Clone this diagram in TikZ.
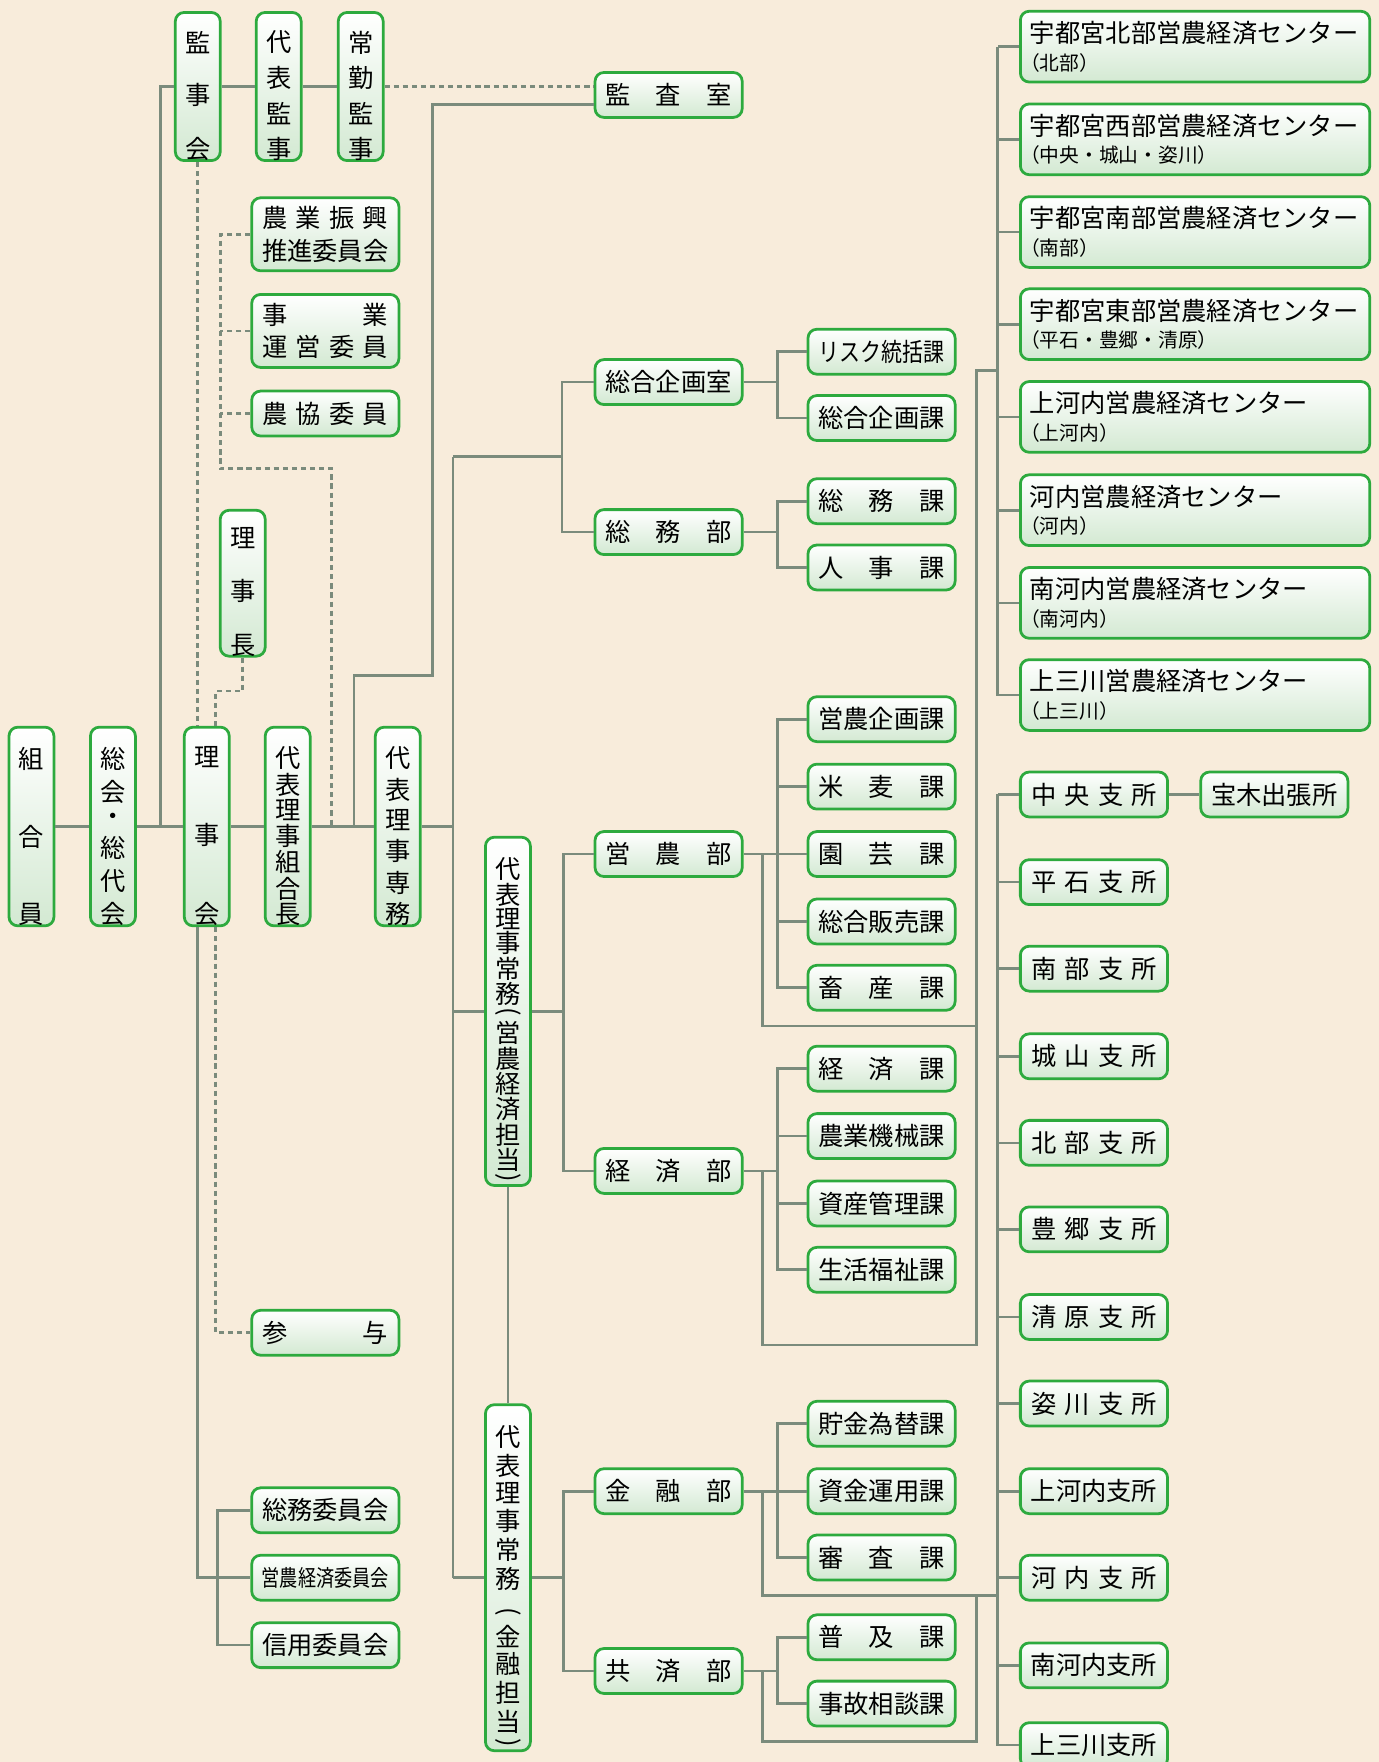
\documentclass[tikz,border=0pt]{standalone}
\usepackage{fontspec}
\setmainfont{Noto Sans CJK JP}
\usepackage{graphicx}
\usepackage{xcolor}
\definecolor{orgbg}{HTML}{F8ECDB}
\definecolor{orgedge}{HTML}{2DAA3E}
\definecolor{orgfoot}{HTML}{D3E9D2}
\definecolor{orgwire}{HTML}{7B8B7C}
\usepackage{tikz}
\usetikzlibrary{positioning,calc}
\newcommand\bxfont{\fontsize{12.8}{16.5}\selectfont}
\newcommand\spr[1]{\makebox[2.24cm][s]{#1}}
\newcommand\vsp{\par\vfill}
\newcommand\vstk[3]{\parbox[c][#1][s]{0.8cm}{\baselineskip=0pt\lineskip=0pt\lineskiplimit=0pt\centering\vspace*{#2}#3\par}}
\newcommand\vpar[1]{\rotatebox[origin=c]{-90}{#1}}
\newcommand\ctr[2]{#1\\[-2.5pt]{\fontsize{10}{11}\selectfont\leavevmode\kern-0.5em #2}}
\tikzset{
  orgbox/.style={draw=orgedge,line width=1.4pt,rounded corners=4.5pt,top color=white,bottom color=orgfoot,inner sep=0pt,align=center,font=\bxfont,minimum width=2.62cm,minimum height=0.8cm},
  orgtall/.style={orgbox,minimum width=0pt,minimum height=0pt},
  orgctr/.style={orgbox,minimum width=6.22cm,minimum height=1.26cm,text width=5.88cm,align=left},
  orgline/.style={draw=orgwire,line width=1.35pt},
  orgdash/.style={orgline,dash pattern=on 2.6pt off 2pt},
}
\begin{document}
\begin{tikzpicture}[x=0.02cm,y=-0.02cm]
\useasboundingbox (0,0) rectangle (1227,1568);
\fill[orgbg] (0,0) rectangle (1227,1568);
% auditors and committees
\node[orgtall] (kanjikai) at (176,77) {\vstk{2.6cm}{0.33cm}{監\vsp 事\vsp 会}};
\node[orgtall] (daikan) at (248,77) {\vstk{2.6cm}{0.33cm}{代\vsp 表\vsp 監\vsp 事}};
\node[orgtall] (jokin) at (321,77) {\vstk{2.6cm}{0.33cm}{常\vsp 勤\vsp 監\vsp 事}};
\node[orgbox,minimum height=1.3cm] (nogyo) at (289.5,208.5) {\spr{農\hfill 業\hfill 振\hfill 興}\\推進委員会};
\node[orgbox,minimum height=1.3cm] (jigyo) at (289.5,294.5) {\spr{事\hfill 業}\\\spr{運\hfill 営\hfill 委\hfill 員}};
\node[orgbox] (nokyo) at (289.5,368) {\spr{農\hfill 協\hfill 委\hfill 員}};
\node[orgtall] (rijicho) at (216,519) {\vstk{2.56cm}{0.31cm}{理\vsp 事\vsp 長}};
% main row
\node[orgtall] (kumiai) at (28,735.5) {\vstk{3.5cm}{0.35cm}{組\vsp 合\vsp 員}};
\node[orgtall] (soukai) at (100.5,735.5) {\vstk{3.5cm}{0.35cm}{総\vsp 会\vsp ・\vsp 総\vsp 代\vsp 会}};
\node[orgtall] (rijikai) at (184,735.5) {\vstk{3.5cm}{0.35cm}{理\vsp 事\vsp 会}};
\node[orgtall] (kumiaicho) at (256,735.5) {\vstk{3.5cm}{0.35cm}{代\vsp 表\vsp 理\vsp 事\vsp 組\vsp 合\vsp 長}};
\node[orgtall] (senmu) at (354,735.5) {\vstk{3.5cm}{0.35cm}{代\vsp 表\vsp 理\vsp 事\vsp 専\vsp 務}};
\node[orgbox] (sanyo) at (289.5,1186) {\spr{参\hfill 与}};
\node[orgbox] (somuiin) at (289.5,1344) {総務委員会};
\node[orgbox] (einoiin) at (289.5,1404) {\fontsize{11.5}{13}\selectfont\scalebox{0.8}[1]{営農経済委員会}};
\node[orgbox] (shinyo) at (289.5,1464) {信用委員会};
\node[orgtall] (jomu1) at (452,900) {\vstk{6.2cm}{0.37cm}{代\vsp 表\vsp 理\vsp 事\vsp 常\vsp 務\vsp\vpar{(}\vsp 営\vsp 農\vsp 経\vsp 済\vsp 担\vsp 当\vsp\vpar{)}}};
\node[orgtall] (jomu2) at (452,1404) {\vstk{6.16cm}{0.37cm}{代\vsp 表\vsp 理\vsp 事\vsp 常\vsp 務\vsp\vspace{0.2cm}\vpar{(}\vsp 金\vsp 融\vsp 担\vsp 当\vsp\vpar{)}}};
% departments
\node[orgbox] (kansa) at (595,84.5) {\spr{監\hfill 査\hfill 室}};
\node[orgbox] (kikaku) at (595,340) {総合企画室};
\node[orgbox] (somubu) at (595,473.5) {\spr{総\hfill 務\hfill 部}};
\node[orgbox] (einobu) at (595,760) {\spr{営\hfill 農\hfill 部}};
\node[orgbox] (keizaibu) at (595,1042) {\spr{経\hfill 済\hfill 部}};
\node[orgbox] (kinyubu) at (595,1327) {\spr{金\hfill 融\hfill 部}};
\node[orgbox] (kyosaibu) at (595,1487) {\spr{共\hfill 済\hfill 部}};
% sections
\node[orgbox] (risk) at (784.5,313) {\scalebox{0.83}[1]{リスク統括課}};
\node[orgbox] (sokika) at (784.5,372) {総合企画課};
\node[orgbox] (somuka) at (784.5,446) {\spr{総\hfill 務\hfill 課}};
\node[orgbox] (jinji) at (784.5,505) {\spr{人\hfill 事\hfill 課}};
\node[orgbox] (eikika) at (784.5,640) {営農企画課};
\node[orgbox] (beibaku) at (784.5,700) {\spr{米\hfill 麦\hfill 課}};
\node[orgbox] (engei) at (784.5,760) {\spr{園\hfill 芸\hfill 課}};
\node[orgbox] (hanbai) at (784.5,820) {総合販売課};
\node[orgbox] (chikusan) at (784.5,879) {\spr{畜\hfill 産\hfill 課}};
\node[orgbox] (keizaika) at (784.5,951) {\spr{経\hfill 済\hfill 課}};
\node[orgbox] (kikai) at (784.5,1011) {農業機械課};
\node[orgbox] (shisan) at (784.5,1071) {資産管理課};
\node[orgbox] (fukushi) at (784.5,1130) {生活福祉課};
\node[orgbox] (chokin) at (784.5,1267) {貯金為替課};
\node[orgbox] (unyo) at (784.5,1327) {資金運用課};
\node[orgbox] (shinsa) at (784.5,1386) {\spr{審\hfill 査\hfill 課}};
\node[orgbox] (fukyu) at (784.5,1457) {\spr{普\hfill 及\hfill 課}};
\node[orgbox] (jiko) at (784.5,1516) {事故相談課};
% centers
\node[orgctr] (c1) at (1063.5,41.5) {\ctr{宇都宮北部営農経済センター}{（北部）}};
\node[orgctr] (c2) at (1063.5,124) {\ctr{宇都宮西部営農経済センター}{（中央・城山・姿川）}};
\node[orgctr] (c3) at (1063.5,206.5) {\ctr{宇都宮南部営農経済センター}{（南部）}};
\node[orgctr] (c4) at (1063.5,288.5) {\ctr{宇都宮東部営農経済センター}{（平石・豊郷・清原）}};
\node[orgctr] (c5) at (1063.5,371) {\ctr{上河内営農経済センター}{（上河内）}};
\node[orgctr] (c6) at (1063.5,454) {\ctr{河内営農経済センター}{（河内）}};
\node[orgctr] (c7) at (1063.5,536.5) {\ctr{南河内営農経済センター}{（南河内）}};
\node[orgctr] (c8) at (1063.5,618.5) {\ctr{上三川営農経済センター}{（上三川）}};
% branches
\node[orgbox] (chuo) at (973.5,707) {\spr{中\hfill 央\hfill 支\hfill 所}};
\node[orgbox] (takaragi) at (1134,707) {宝木出張所};
\node[orgbox] (hiraishi) at (973.5,785) {\spr{平\hfill 石\hfill 支\hfill 所}};
\node[orgbox] (nanbu) at (973.5,862) {\spr{南\hfill 部\hfill 支\hfill 所}};
\node[orgbox] (shiroyama) at (973.5,940) {\spr{城\hfill 山\hfill 支\hfill 所}};
\node[orgbox] (hokubu) at (973.5,1017) {\spr{北\hfill 部\hfill 支\hfill 所}};
\node[orgbox] (toyosato) at (973.5,1094) {\spr{豊\hfill 郷\hfill 支\hfill 所}};
\node[orgbox] (kiyohara) at (973.5,1172) {\spr{清\hfill 原\hfill 支\hfill 所}};
\node[orgbox] (sugatagawa) at (973.5,1249) {\spr{姿\hfill 川\hfill 支\hfill 所}};
\node[orgbox] (kamikawachi) at (973.5,1327) {上河内支所};
\node[orgbox] (kawachi) at (973.5,1404) {\spr{河\hfill 内\hfill 支\hfill 所}};
\node[orgbox] (minamikawachi) at (973.5,1482) {南河内支所};
\node[orgbox] (kaminokawa) at (973.5,1553) {上三川支所};
% left side wiring
\draw[orgline] (kumiai.east) -- (soukai.west);
\draw[orgline] (soukai.east) -- (rijikai.west);
\draw[orgline] (rijikai.east) -- (kumiaicho.west);
\draw[orgline] (kumiaicho.east) -- (senmu.west);
\coordinate (kanjiFoot) at (143,735.5);
\draw[orgline] (kanjikai.west) -| (kanjiFoot);
\draw[orgline] (kanjikai.east) -- (daikan.west);
\draw[orgline] (daikan.east) -- (jokin.west);
\draw[orgdash] (jokin.east) -- (jokin.east -| kansa.west);
\draw[orgdash] (kanjikai.south) -- (kanjikai.south |- rijikai.north);
\coordinate (rijichoBend) at (192,615);
\draw[orgdash] (rijicho.south) |- (rijichoBend) -- (rijichoBend |- rijikai.north);
\coordinate (iinBend) at (196,417);
\coordinate (iinFoot) at (295,735.5);
\draw[orgdash] (nogyo.west) -| (iinBend) -| (iinFoot);
\draw[orgdash] (jigyo.west) -- (jigyo.west -| iinBend);
\draw[orgdash] (nokyo.west) -- (nokyo.west -| iinBend);
\coordinate (kansaFoot) at (315,735.5);
\coordinate (kansaBend) at (385,601);
\draw[orgline] (kansaFoot) |- (kansaBend) |- ([yshift=-0.17cm]kansa.west);
\draw[orgline] ([xshift=-0.16cm]rijikai.south) |- (einoiin.west);
\draw[orgdash] ([xshift=0.16cm]rijikai.south) |- (sanyo.west);
\draw[orgline] (somuiin.west) -- ++(-29,0) |- (shinyo.west);
% spine
\coordinate (spineTop) at (403,406.5);
\draw[orgline] (senmu.east) -- (senmu.east -| spineTop);
\draw[orgline] (spineTop) -- (spineTop |- jomu2.west);
\draw[orgline] (jomu1.west) -- (jomu1.west -| spineTop);
\draw[orgline] (jomu2.west) -- (jomu2.west -| spineTop);
\draw[orgline] (jomu1.south) -- (jomu2.north);
\draw[orgline] (spineTop) -- ++(97,0) coordinate (somuFork);
\draw[orgline] (kikaku.west) -| (somuFork) |- (somubu.west);
\draw[orgline] (jomu1.east) -- ++(28,0) coordinate (einoFork);
\draw[orgline] (einobu.west) -| (einoFork) |- (keizaibu.west);
\draw[orgline] (jomu2.east) -- ++(28,0) coordinate (kinFork);
\draw[orgline] (kinyubu.west) -| (kinFork) |- (kyosaibu.west);
% sections wiring
\draw[orgline] (kikaku.east) -- ++(30,0) coordinate (kikakuFork);
\draw[orgline] (risk.west) -| (kikakuFork) |- (sokika.west);
\draw[orgline] (somubu.east) -- ++(30,0) coordinate (somubuFork);
\draw[orgline] (somuka.west) -| (somubuFork) |- (jinji.west);
\draw[orgline] (einobu.east) -- (engei.west);
\coordinate (einobuFork) at ([xshift=0.6cm]einobu.east);
\draw[orgline] (eikika.west) -| (einobuFork) |- (chikusan.west);
\draw[orgline] (beibaku.west) -- (beibaku.west -| einobuFork);
\draw[orgline] (hanbai.west) -- (hanbai.west -| einobuFork);
\draw[orgline] (keizaibu.east) -- ++(30,0) coordinate (keizaiFork);
\draw[orgline] (keizaika.west) -| (keizaiFork) |- (fukushi.west);
\draw[orgline] (kikai.west) -- (kikai.west -| keizaiFork);
\draw[orgline] (shisan.west) -- (shisan.west -| keizaiFork);
\draw[orgline] (kinyubu.east) -- (unyo.west);
\coordinate (kinyuFork) at ([xshift=0.6cm]kinyubu.east);
\draw[orgline] (chokin.west) -| (kinyuFork) |- (shinsa.west);
\draw[orgline] (kyosaibu.east) -- ++(30,0) coordinate (kyosaiFork);
\draw[orgline] (fukyu.west) -| (kyosaiFork) |- (jiko.west);
% centers wiring
\draw[orgline] (c1.west) -- ++(-19,0) coordinate (ctrSpine);
\draw[orgline] (c8.west) -| (ctrSpine);
\draw[orgline] (c2.west) -- (c2.west -| ctrSpine);
\draw[orgline] (c3.west) -- (c3.west -| ctrSpine);
\draw[orgline] (c4.west) -- (c4.west -| ctrSpine);
\draw[orgline] (c5.west) -- (c5.west -| ctrSpine);
\draw[orgline] (c6.west) -- (c6.west -| ctrSpine);
\draw[orgline] (c7.west) -- (c7.west -| ctrSpine);
\coordinate (einoDrop) at (869,913);
\coordinate (keizaiDrop) at (869,1197);
\coordinate (ctrFeed) at (869,330);
\draw[orgline] ([xshift=0.34cm]einobu.east) |- (einoDrop);
\draw[orgline] ([xshift=0.34cm]keizaibu.east) |- (keizaiDrop) -- (ctrFeed) -- (ctrFeed -| ctrSpine);
% branches wiring
\draw[orgline] (chuo.west) -- ++(-19,0) coordinate (brSpine);
\draw[orgline] (kaminokawa.west) -| (brSpine);
\draw[orgline] (hiraishi.west) -- (hiraishi.west -| brSpine);
\draw[orgline] (nanbu.west) -- (nanbu.west -| brSpine);
\draw[orgline] (shiroyama.west) -- (shiroyama.west -| brSpine);
\draw[orgline] (hokubu.west) -- (hokubu.west -| brSpine);
\draw[orgline] (toyosato.west) -- (toyosato.west -| brSpine);
\draw[orgline] (kiyohara.west) -- (kiyohara.west -| brSpine);
\draw[orgline] (sugatagawa.west) -- (sugatagawa.west -| brSpine);
\draw[orgline] (kamikawachi.west) -- (kamikawachi.west -| brSpine);
\draw[orgline] (kawachi.west) -- (kawachi.west -| brSpine);
\draw[orgline] (minamikawachi.west) -- (minamikawachi.west -| brSpine);
\draw[orgline] (chuo.east) -- (takaragi.west);
\coordinate (kinDrop) at (889,1420);
\coordinate (kyoDrop) at (869,1550);
\draw[orgline] ([xshift=0.34cm]kinyubu.east) |- (kinDrop);
\draw[orgline] ([xshift=0.34cm]kyosaibu.east) |- (kyoDrop) -- (kyoDrop |- kinDrop);
\end{tikzpicture}
\end{document}
